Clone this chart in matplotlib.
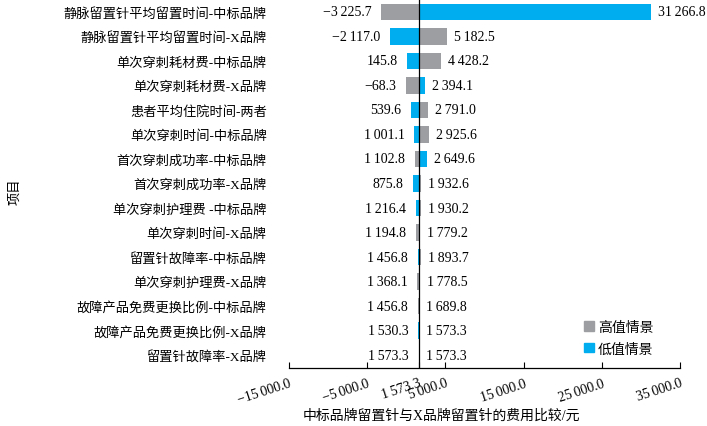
import matplotlib
matplotlib.use("Agg")
import matplotlib.pyplot as plt
from matplotlib.patches import Patch

plt.rcParams['font.family'] = ['Liberation Serif', 'Noto Sans CJK SC', 'DejaVu Sans']
plt.rcParams['axes.unicode_minus'] = True

# tornado data, baseline is 1573.3
base = 1573.3
items = ["静脉留置针平均留置时间-中标品牌", "静脉留置针平均留置时间-X品牌",
         "单次穿刺耗材费-中标品牌", "单次穿刺耗材费-X品牌", "患者平均住院时间-两者",
         "单次穿刺时间-中标品牌", "首次穿刺成功率-中标品牌", "首次穿刺成功率-X品牌",
         "单次穿刺护理费 -中标品牌", "单次穿刺时间-X品牌", "留置针故障率-中标品牌",
         "单次穿刺护理费-X品牌", "故障产品免费更换比例-中标品牌",
         "故障产品免费更换比例-X品牌", "留置针故障率-X品牌"]
high = [-3225.7, 5182.5, 4428.2, -68.3, 2791.0, 2925.6, 1102.8, 1932.6,
        1930.2, 1194.8, 1893.7, 1368.1, 1456.8, 1573.3, 1573.3]
low = [31266.8, -2117.0, 145.8, 2394.1, 539.6, 1001.1, 2649.6, 875.8,
       1216.4, 1779.2, 1456.8, 1778.5, 1689.8, 1530.3, 1573.3]
xticks = [-15000, -5000, base, 5000, 15000, 25000, 35000]

gray = "#9d9ea2"
blue = "#00aeef"


def fmt(v):
    s = f"{abs(v):,.1f}".replace(",", "\u2009")
    return ("\u2212" + s) if v < 0 else s


fig = plt.figure(figsize=(7.07, 4.27), dpi=100)
ax = fig.add_axes([289 / 707, 1 - 369 / 427, (680 - 289) / 707, 369 / 427])

ys = list(range(len(items)))
ax.barh(ys, [h - base for h in high], left=base, height=0.68, color=gray)
ax.barh(ys, [l - base for l in low], left=base, height=0.68, color=blue)

for y, h, l in zip(ys, high, low):
    lo, hi = min(h, l), max(h, l)
    ax.annotate(fmt(lo), (lo, y), xytext=(-7, 0), textcoords="offset points",
                ha="right", va="center", fontsize=10)
    ax.annotate(fmt(hi), (hi, y), xytext=(5, 0), textcoords="offset points",
                ha="left", va="center", fontsize=10)

ax.axvline(base, color="black", lw=0.9)

ax.set_xlim(-15000, 35000)
ax.set_ylim(len(items) - 0.47, -0.53)
ax.set_xticks(xticks)
ax.set_xticklabels([fmt(v) for v in xticks], rotation=18, ha="right",
                   rotation_mode="anchor", fontsize=10)
ax.tick_params(axis="x", direction="in", length=4, width=0.8, pad=6)
ax.set_yticks(ys)
ax.set_yticklabels(items, fontsize=9.5)
ax.tick_params(axis="y", length=0, pad=16)

for s in ["top", "right", "left"]:
    ax.spines[s].set_visible(False)
ax.spines["bottom"].set_linewidth(0.9)

fig.text(441 / 707, 1 - 416 / 427, "中标品牌留置针与X品牌留置针的费用比较/元",
         ha="center", va="center", fontsize=10)
fig.text(15 / 707, 1 - 192 / 427, "项目", rotation=90, ha="center",
         va="center", fontsize=9.5)

handles = [Patch(color=gray, label="高值情景"), Patch(color=blue, label="低值情景")]
fig.legend(handles=handles, loc="upper left", bbox_to_anchor=(577 / 707, 1 - 315 / 427),
           frameon=False, fontsize=10, handlelength=0.7, handleheight=0.7,
           handletextpad=0.3, borderpad=0, labelspacing=0.6)

fig.savefig("out.png", dpi=100)
